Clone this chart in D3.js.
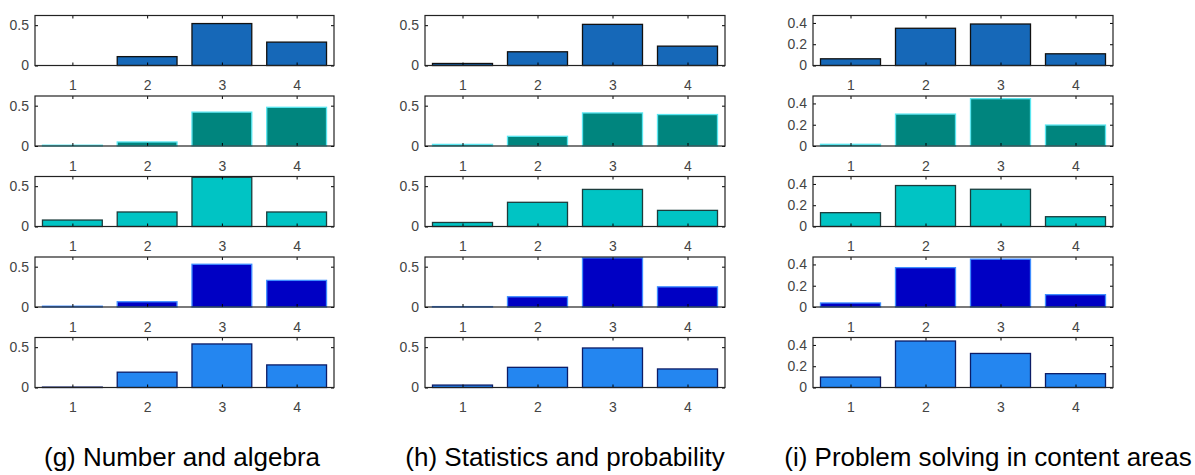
<!DOCTYPE html>
<html>
<head>
<meta charset="utf-8">
<script src="https://cdn.jsdelivr.net/npm/d3@7"></script>
<style>
  body { margin: 0; background: #fff; }
  svg { display: block; }
  .tick text { font-family: "Liberation Sans", Arial, sans-serif; font-size: 14px; fill: #444; }
  .caption { font-family: "Liberation Sans", Arial, sans-serif; font-size: 26px; fill: #000; }
</style>
</head>
<body>
<svg id="chart" width="1195" height="475"></svg>
<script>
// categories on the x axis of every small panel
const categories = [1, 2, 3, 4];

// (g) Number and algebra, one array per row (top to bottom)
const numberAlgebra = [
  [0.000, 0.11, 0.52, 0.29],
  [0.010, 0.05, 0.42, 0.48],
  [0.080, 0.18, 0.61, 0.18],
  [0.010, 0.065, 0.53, 0.33],
  [0.005, 0.19, 0.54, 0.28]
];

// (h) Statistics and probability
const statsProbability = [
  [0.025, 0.17, 0.51, 0.24],
  [0.020, 0.12, 0.41, 0.39],
  [0.050, 0.30, 0.46, 0.20],
  [0.005, 0.127, 0.61, 0.25],
  [0.030, 0.25, 0.49, 0.23]
];

// (i) Problem solving in content areas
const problemSolving = [
  [0.063, 0.35, 0.39, 0.11],
  [0.016, 0.30, 0.445, 0.197],
  [0.130, 0.385, 0.35, 0.092],
  [0.038, 0.37, 0.45, 0.116],
  [0.098, 0.437, 0.32, 0.13]
];

const captions = ['(g) Number and algebra', '(h) Statistics and probability', '(i) Problem solving in content areas'];
const yMax = [0.62, 0.62, 0.47];
const yTicks = [[0, 0.5], [0, 0.5], [0, 0.2, 0.4]];

// styling per row
const rowFills = ['#1668b8', '#00857e', '#00c4c4', '#0000c4', '#2486f0'];
const rowEdges = ['#111111', '#5ae6f0', '#1c3c3c', '#3f8dff', '#0c1c66'];

const svg = d3.select('#chart');

// ---- layout ----
const colX = [[35, 334], [425, 725], [813, 1113]];
const captionX = [182, 565, 988];
const panelH = 50;
const rowTop = i => 15.5 + i * 80.5;

const columns = [numberAlgebra, statsProbability, problemSolving];

columns.forEach((rows, c) => {
  const [x0, x1] = colX[c];

  const x = d3.scaleBand()
    .domain(categories)
    .range([x0, x1])
    .paddingInner(0.2)
    .paddingOuter(0.1);

  rows.forEach((values, r) => {
    const top = rowTop(r);
    const y = d3.scaleLinear().domain([0, yMax[c]]).range([top + panelH, top]);

    const g = svg.append('g');

    // bars
    g.selectAll('rect.bar')
      .data(values)
      .join('rect')
      .attr('class', 'bar')
      .attr('x', (d, i) => x(categories[i]))
      .attr('width', x.bandwidth())
      .attr('y', d => y(Math.min(d, yMax[c])))
      .attr('height', d => y(0) - y(Math.min(d, yMax[c])))
      .attr('fill', rowFills[r])
      .attr('stroke', rowEdges[r])
      .attr('stroke-width', 1.3);

    // axes, ticks pointing inward like matlab
    const xTickScale = d3.scalePoint().domain(categories).range([x(1) + x.bandwidth() / 2, x(4) + x.bandwidth() / 2]);

    g.append('g')
      .attr('transform', `translate(0,${top + panelH})`)
      .call(d3.axisBottom(xTickScale).tickSize(-3).tickSizeOuter(0).tickPadding(15))
      .call(a => a.select('.domain').remove());

    g.append('g')
      .attr('transform', `translate(0,${top})`)
      .call(d3.axisTop(xTickScale).tickSize(-3).tickSizeOuter(0).tickFormat(''))
      .call(a => a.select('.domain').remove());

    g.append('g')
      .attr('transform', `translate(${x0},0)`)
      .call(d3.axisLeft(y).tickValues(yTicks[c]).tickSize(-3).tickPadding(6).tickFormat(d3.format('~g')))
      .call(a => a.select('.domain').remove());

    g.append('g')
      .attr('transform', `translate(${x1},0)`)
      .call(d3.axisRight(y).tickValues(yTicks[c]).tickSize(-3).tickFormat(''))
      .call(a => a.select('.domain').remove());

    // box
    g.append('rect')
      .attr('x', x0).attr('y', top)
      .attr('width', x1 - x0).attr('height', panelH)
      .attr('fill', 'none')
      .attr('stroke', '#222')
      .attr('stroke-width', 1.2);
  });

  svg.append('text')
    .attr('class', 'caption')
    .attr('x', captionX[c])
    .attr('y', 466)
    .attr('text-anchor', 'middle')
    .text(captions[c]);
});
</script>
</body>
</html>
